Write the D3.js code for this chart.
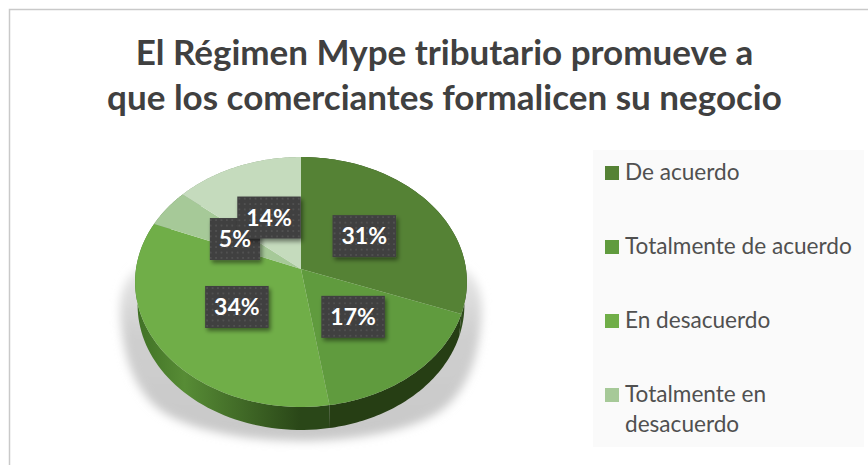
<!DOCTYPE html>
<meta charset="utf-8">
<style>
html, body { margin: 0; background: #fff; }
svg { display: block; }
text { font-family: Lato, sans-serif; }
.title { font-size: 35px; font-weight: 700; fill: #404040; text-anchor: middle; }
.legend text { font-size: 22.6px; fill: #505050; }
.labText { font-size: 23px; font-weight: 700; fill: #fff; text-anchor: middle; }
</style>
<svg width="868" height="465"></svg>
<script src="https://d3js.org/d3.v7.min.js"></script>
<script>

var titleLines = ["El Régimen Mype tributario promueve a", "que los comerciantes formalicen su negocio"];
var values = [31, 17, 34, 5, 14];
var colors = ["#558235", "#609b3e", "#70ae48", "#a6c998", "#c5dbbd"];
var legendLabels = [["De acuerdo"], ["Totalmente de acuerdo"], ["En desacuerdo"], ["Totalmente en", "desacuerdo"]];

var svg = d3.select("svg"),
    defs = svg.append("defs");

// the disc is drawn in perspective, so the apex sits above the middle of the ellipse
var apexX = 301, apexY = 269, radX = 165, radY = 123.6, tilt = 0.104, depth = 23;
var sx = d3.scaleLinear().domain([-1, 1]).range([apexX - radX, apexX + radX]);
var sy = d3.scaleLinear().domain([-1, 1]).range([apexY - radY, apexY + radY]);

function project(angle, r) {
  var u = r * Math.sin(angle), v = -r * Math.cos(angle), den = 1 - tilt * v;
  return [sx(u / den), sy(v / den)];
}

function rim(a0, a1) {
  return d3.range(0, 61).map(function(i) { return a0 + (a1 - a0) * i / 60; });
}

var line = d3.line();
var arcs = d3.pie().sort(null)(values);

// blurred shadow under the pie
defs.append("filter").attr("id", "blur").attr("x", "-20%").attr("y", "-20%").attr("width", "140%").attr("height", "140%")
  .append("feGaussianBlur").attr("stdDeviation", 5);
var shadowGrad = defs.append("linearGradient").attr("id", "shadowGrad").attr("x1", 0).attr("x2", 0).attr("y1", 0).attr("y2", 1);
shadowGrad.append("stop").attr("offset", 0).attr("stop-color", "#f0f0f0");
shadowGrad.append("stop").attr("offset", 0.45).attr("stop-color", "#cfcfcf");
shadowGrad.append("stop").attr("offset", 1).attr("stop-color", "#c8c8c8");

var shadowLine = d3.line().curve(d3.curveCatmullRomClosed);
svg.append("path")
    .attr("d", shadowLine([[134, 272], [124, 345], [160, 410], [301, 441], [442, 410], [478, 345], [468, 272]]))
    .attr("fill", "url(#shadowGrad)")
    .attr("filter", "url(#blur)");

// frame
svg.append("path").attr("d", "M9.5,465V9.5H868").attr("fill", "none").attr("stroke", "#c9c9c9").attr("stroke-width", 1.5);

// title
svg.selectAll(".title")
    .data(titleLines)
  .enter().append("text")
    .attr("class", "title")
    .attr("x", 444.5)
    .attr("y", function(d, i) { return 65 + i * 45; })
    .text(function(d) { return d; });

// side wall
var wallGrad = defs.append("linearGradient").attr("id", "wallGrad")
    .attr("gradientUnits", "userSpaceOnUse").attr("x1", 135).attr("x2", 300).attr("y1", 0).attr("y2", 0);
wallGrad.append("stop").attr("offset", 0).attr("stop-color", "#3f7025");
wallGrad.append("stop").attr("offset", 0.3).attr("stop-color", "#578c35");
wallGrad.append("stop").attr("offset", 1).attr("stop-color", "#2a4718");

var wallFill = ["#2f4c1c", "#263e14", "url(#wallGrad)", "#6d8f60", "#8aa581"];

svg.append("g").selectAll("path")
    .data(arcs)
  .enter().append("path")
    .attr("fill", function(d, i) { return wallFill[i]; })
    .attr("d", function(d) {
      var angles = rim(d.startAngle, d.endAngle);
      var top = angles.map(function(a) { return project(a, 1); });
      var bottom = angles.map(function(a) {
        var p = project(a, 1);
        return [apexX + (p[0] - apexX) * 0.985, p[1] + depth];
      }).reverse();
      return line(top.concat(bottom)) + "Z";
    });

// top of the disc
svg.append("g").selectAll("path")
    .data(arcs)
  .enter().append("path")
    .attr("fill", function(d, i) { return colors[i]; })
    .attr("d", function(d) {
      var pts = rim(d.startAngle, d.endAngle).map(function(a) { return project(a, 1); });
      return line([project(0, 0)].concat(pts)) + "Z";
    });

// value labels: dotted dark boxes, all the text goes over all the boxes
var dots = defs.append("pattern").attr("id", "dots").attr("patternUnits", "userSpaceOnUse").attr("width", 5.4).attr("height", 5.4);
dots.append("rect").attr("width", 5.4).attr("height", 5.4).attr("fill", "#404040");
dots.append("circle").attr("cx", 2.7).attr("cy", 2.7).attr("r", 0.9).attr("fill", "#565656");

var drop = defs.append("filter").attr("id", "drop").attr("x", "-20%").attr("y", "-20%").attr("width", "150%").attr("height", "150%");
drop.append("feDropShadow").attr("dx", 2).attr("dy", 3).attr("stdDeviation", 2).attr("flood-color", "#000").attr("flood-opacity", 0.45);

var labelRadius = 0.48, boxHeight = 42, boxPad = 9;

function labelPos(d) {
  var p = project((d.startAngle + d.endAngle) / 2, labelRadius);
  return "translate(" + p[0] + "," + p[1] + ")";
}

var labRect = svg.append("g").selectAll("rect")
    .data(arcs)
  .enter().append("rect")
    .attr("transform", labelPos)
    .attr("fill", "url(#dots)")
    .attr("filter", "url(#drop)");

var labText = svg.append("g").selectAll("text")
    .data(arcs)
  .enter().append("text")
    .attr("class", "labText")
    .attr("transform", labelPos)
    .attr("y", 8)
    .text(function(d) { return d.value + "%"; });

labText.each(function(d) { d.w = this.getComputedTextLength() + boxPad * 2; });
labRect
    .attr("x", function(d) { return -d.w / 2; })
    .attr("y", -boxHeight / 2)
    .attr("width", function(d) { return d.w; })
    .attr("height", boxHeight);

// legend
var legend = svg.append("g").attr("class", "legend");
legend.append("rect").attr("x", 593).attr("y", 150).attr("width", 271).attr("height", 297).attr("fill", "#fafafa");

var legendY = d3.scalePoint().domain(d3.range(legendLabels.length)).range([180, 402]);

var item = legend.selectAll("g")
    .data(legendLabels)
  .enter().append("g")
    .attr("transform", function(d, i) { return "translate(605," + legendY(i) + ")"; });

item.append("rect")
    .attr("y", -14)
    .attr("width", 14)
    .attr("height", 14)
    .attr("fill", function(d, i) { return colors[i]; });

item.selectAll("text")
    .data(function(d) { return d; })
  .enter().append("text")
    .attr("x", 20)
    .attr("y", function(d, i) { return i * 30; })
    .text(function(d) { return d; });

</script>
